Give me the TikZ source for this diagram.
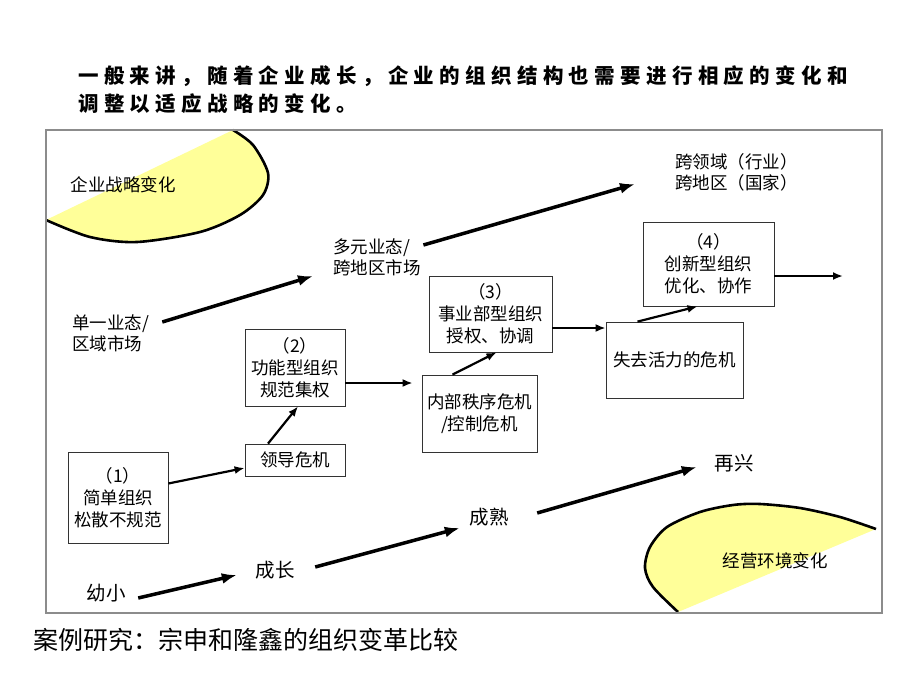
\documentclass[tikz,border=0pt]{standalone}
\usepackage{fontspec}
\setmainfont{Noto Sans CJK SC}
\newfontfamily\titlefont[LetterSpace=26]{Noto Sans CJK SC}
\usepackage{tikz}
\usetikzlibrary{arrows.meta}
\usepackage{xcolor}
\definecolor{paleyellow}{RGB}{255,255,153}

\begin{document}
\begin{tikzpicture}[x=1pt, y=-1pt,
  orgbox/.style = {draw=black!80, line width=.8pt, inner sep=0pt, align=center, font=\fontsize{17.5}{22}\selectfont},
  stagetext/.style = {inner sep=0pt, align=left, font=\fontsize{17.5}{21}\selectfont},
  agetext/.style = {inner sep=0pt, font=\fontsize{19.5}{22}\selectfont},
  thickarrow/.style = {line width=3.5pt, -{Latex[length=15pt, width=11pt]}},
  thinarrow/.style = {line width=2.2pt, -{Latex[length=10pt, width=8pt]}}]
 \useasboundingbox (0, 0) rectangle (920, 690);
 % yellow half ellipses
 \fill[paleyellow] plot[smooth] coordinates {(233,130) (253,145) (268,173) (263,195) (240,215) (200,232) (137,242) (90,237) (46,220)} -- cycle;
 \draw[line width=2.6pt] plot[smooth] coordinates {(233,130) (253,145) (268,173) (263,195) (240,215) (200,232) (137,242) (90,237) (46,220)};
 \fill[paleyellow] plot[smooth] coordinates {(678,612) (653,587) (645,568) (650,547) (667,527) (700,512) (733,505) (760,504) (800,508) (840,517) (876,529)} -- cycle;
 \draw[line width=2.6pt] plot[smooth] coordinates {(678,612) (653,587) (645,568) (650,547) (667,527) (700,512) (733,505) (760,504) (800,508) (840,517) (876,529)};
 \draw[black!45, line width=1.3pt] (46, 130) rectangle (882, 613);

 \node[anchor=west, inner sep=0pt, font=\fontsize{20.5}{24}\titlefont\bfseries] (intro1) at (78, 76) {一般来讲，随着企业成长，企业的组织结构也需要进行相应的变化和};
 \node[anchor=west, inner sep=0pt, font=\fontsize{20.5}{24}\titlefont\bfseries] (intro2) at (78, 104) {调整以适应战略的变化。};
 \node[anchor=west, inner sep=0pt, font=\fontsize{25}{28}\selectfont] (casestudy) at (33, 640) {案例研究：宗申和隆鑫的组织变革比较};

 \node[stagetext] (strategy) at (123, 185) {企业战略变化};
 \node[stagetext] (environment) at (775, 561) {经营环境变化};
 \node[stagetext, anchor=west] (single) at (72, 333) {单一业态/\\区域市场};
 \node[stagetext, anchor=west] (multi) at (333, 257) {多元业态/\\跨地区市场};
 \node[stagetext, anchor=west] (cross) at (675, 172) {跨领域（行业）\\跨地区（国家）};
 \draw[thickarrow] ([xshift=13pt, yshift=11pt]single.east) -- ([xshift=-20pt, yshift=-19pt]multi.west);
 \draw[thickarrow] ([xshift=2.5pt, yshift=12pt]multi.east) -- ([xshift=-40pt, yshift=-12pt]cross.west);

 \node[orgbox, minimum width=100pt, minimum height=91pt] (simple) at (118, 497.5) {（1）\\简单组织\\松散不规范};
 \node[orgbox, minimum width=100pt, minimum height=32pt] (leadcrisis) at (295, 460) {领导危机};
 \node[orgbox, minimum width=100pt, minimum height=77pt] (functional) at (295, 367.5) {（2）\\功能型组织\\规范集权};
 \node[orgbox, minimum width=115pt, minimum height=77pt] (controlcrisis) at (479.5, 413.5) {内部秩序危机\\/控制危机};
 \node[orgbox, minimum width=123pt, minimum height=76pt] (division) at (490.5, 314) {（3）\\事业部型组织\\授权、协调};
 \node[orgbox, minimum width=137pt, minimum height=76pt] (vitalcrisis) at (674.5, 360) {失去活力的危机};
 \node[orgbox, minimum width=131pt, minimum height=84pt] (innovative) at (708.5, 264) {（4）\\创新型组织\\优化、协作};
 \coordinate (exit) at (843, 276);
 \draw[thinarrow] ([yshift=14pt]simple.east) -- ([yshift=-8pt]leadcrisis.west);
 \draw[thinarrow] ([xshift=-27pt]leadcrisis.north) -- ([xshift=3pt]functional.south);
 \draw[thinarrow, shorten >=9pt] ([yshift=-15.5pt]functional.east) -- ([yshift=-15.5pt]functional.east -| controlcrisis.west);
 \draw[thinarrow] ([xshift=-27pt]controlcrisis.north) -- ([xshift=6pt]division.south);
 \draw[thinarrow] ([yshift=-14pt]division.east) -- ([yshift=-14pt]division.east -| vitalcrisis.west);
 \draw[thinarrow] ([xshift=-37pt]vitalcrisis.north) -- ([xshift=-11pt]innovative.south);
 \draw[thinarrow] ([yshift=-12pt]innovative.east) -- (exit);

 \node[agetext] (infant) at (106, 593.5) {幼小};
 \node[agetext] (growth) at (275, 570) {成长};
 \node[agetext] (mature) at (489, 517) {成熟};
 \node[agetext] (revival) at (734, 463) {再兴};
 \draw[thickarrow] ([xshift=12.5pt, yshift=-4.5pt]infant.east) -- ([xshift=-18.5pt, yshift=-5pt]growth.west);
 \draw[thickarrow] ([xshift=20.5pt, yshift=3pt]growth.east) -- ([xshift=-9.5pt, yshift=-11pt]mature.west);
 \draw[thickarrow] ([xshift=28.5pt, yshift=4pt]mature.east) -- ([xshift=-17.5pt, yshift=-4pt]revival.west);
\end{tikzpicture}
\end{document}
